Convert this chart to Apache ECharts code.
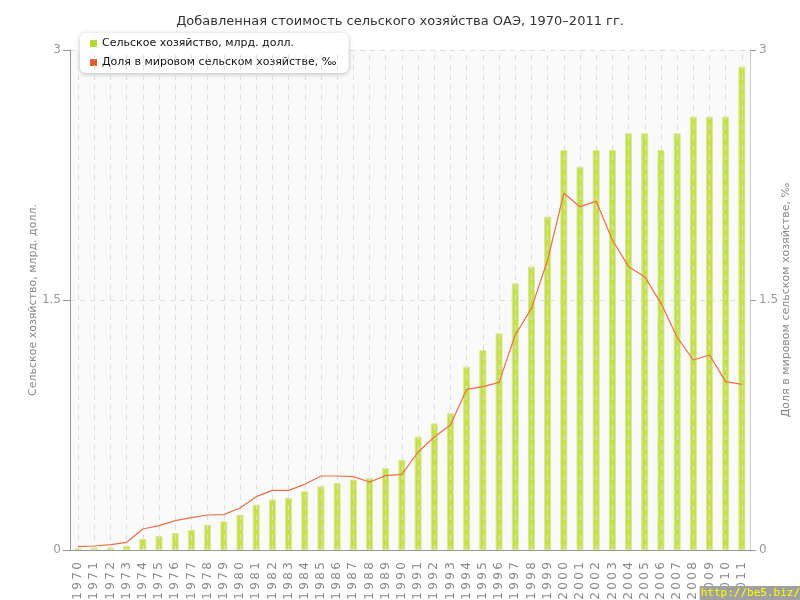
<!DOCTYPE html>
<html><head><meta charset="utf-8">
<script src="https://cdn.jsdelivr.net/npm/echarts@6/dist/echarts.min.js"></script>
<style>html,body{margin:0;padding:0;background:#fff}#c{width:800px;height:600px}</style>
</head><body><div id="c"></div>
<script>
const years = ['1970','1971','1972','1973','1974','1975','1976','1977','1978','1979','1980','1981','1982','1983','1984','1985','1986','1987','1988','1989','1990','1991','1992','1993','1994','1995','1996','1997','1998','1999','2000','2001','2002','2003','2004','2005','2006','2007','2008','2009','2010','2011'];
const agriValue = [0.01,0.015,0.015,0.025,0.066,0.084,0.102,0.12,0.152,0.172,0.212,0.272,0.302,0.312,0.352,0.382,0.402,0.422,0.432,0.492,0.54,0.68,0.76,0.82,1.1,1.2,1.3,1.6,1.7,2.0,2.4,2.3,2.4,2.4,2.5,2.5,2.4,2.5,2.6,2.6,2.6,2.9];
const worldShare = [0.02,0.024,0.032,0.046,0.126,0.146,0.176,0.194,0.21,0.212,0.252,0.32,0.358,0.358,0.394,0.444,0.444,0.44,0.408,0.446,0.454,0.588,0.678,0.75,0.964,0.98,1.006,1.29,1.45,1.74,2.14,2.06,2.092,1.86,1.70,1.64,1.48,1.276,1.14,1.17,1.01,0.994];
const yTicks = [0,1.5,3];

const font = 'DejaVu Sans, Verdana, sans-serif';
const spaced = s => String(s).split('').join('\u2009');
const chart = echarts.init(document.getElementById('c'), null, {renderer:'canvas'});
chart.setOption({
  animation:false,
  backgroundColor:'#fff',
  textStyle:{fontFamily:font},
  title:{text:'Добавленная стоимость сельского хозяйства ОАЭ, 1970–2011 гг.',left:'center',top:10,
    textStyle:{fontSize:13,fontWeight:'normal',color:'#333',fontFamily:font}},
  legend:{orient:'vertical',left:80,top:33,itemWidth:7,itemHeight:7,itemGap:8,
    backgroundColor:'#fff',borderRadius:6,padding:[5,12,5,10],
    shadowColor:'rgba(0,0,0,0.25)',shadowBlur:5,shadowOffsetY:1,
    textStyle:{fontSize:11,color:'#111',fontFamily:font},
    data:[{name:'Сельское хозяйство, млрд. долл.',icon:'rect',itemStyle:{color:'#b5d83a',borderWidth:0}},
          {name:'Доля в мировом сельском хозяйстве, ‰',icon:'rect',itemStyle:{color:'#e0602e',borderWidth:0}}]},
  grid:{left:70,right:50,top:50,bottom:50,show:true,backgroundColor:'#fafafa',borderWidth:0,
    containLabel:false,outerBoundsMode:'none'},
  xAxis:{type:'category',data:years,boundaryGap:true,
    axisLine:{lineStyle:{color:'#999',width:1}},
    axisTick:{alignWithLabel:true,length:5,lineStyle:{color:'#999'}},
    axisLabel:{rotate:90,color:'#888',fontSize:12,margin:12,interval:0,fontFamily:font,formatter:spaced},
    splitLine:{show:false}},
  yAxis:[
    {type:'value',min:0,max:3,interval:1.5,position:'left',
     name:'Сельское хозяйство, млрд. долл.',nameLocation:'middle',nameGap:31,nameMoveOverlap:false,
     nameTextStyle:{color:'#888',fontSize:11,fontFamily:font},
     axisLine:{show:true,lineStyle:{color:'#999'}},
     axisTick:{show:true,length:7,lineStyle:{color:'#999'}},
     axisLabel:{color:'#999',fontSize:12,margin:9,formatter:v=>yTicks.includes(v)?String(v):''},
     splitLine:{show:true,lineStyle:{color:'#ddd',type:[5,5]}}},
    {type:'value',min:0,max:3,interval:1.5,position:'right',
     name:'Доля в мировом сельском хозяйстве, ‰',nameLocation:'middle',nameGap:31,nameRotate:90,nameMoveOverlap:false,
     nameTextStyle:{color:'#888',fontSize:11,fontFamily:font},
     axisLine:{show:true,lineStyle:{color:'#ccc'}},
     axisTick:{show:true,length:6,lineStyle:{color:'#999'}},
     axisLabel:{color:'#999',fontSize:12,margin:9},
     splitLine:{show:false}}
  ],
  series:[
    {name:'Сельское хозяйство, млрд. долл.',type:'bar',yAxisIndex:0,data:agriValue,barWidth:7,
     itemStyle:{color:'#c5e04c',borderColor:'#d9eb8c',borderWidth:1},
     markLine:{silent:true,symbol:'none',label:{show:false},
       lineStyle:{color:'#dedede',type:[5,5],width:1},
       data:years.map(y=>({xAxis:y}))}},
    {name:'Доля в мировом сельском хозяйстве, ‰',type:'line',yAxisIndex:1,data:worldShare,
     symbol:'none',lineStyle:{color:'#e8704a',width:1.2},itemStyle:{color:'#e0602e'},z:5}
  ],
  graphic:[{type:'text',right:0,bottom:0,z:100,
    style:{text:'http://be5.biz/',fill:'#ffff00',font:'11px DejaVu Sans Mono, monospace',
      backgroundColor:'#a0a0a0',padding:[2,0,1,1]}}]
});
</script></body></html>
